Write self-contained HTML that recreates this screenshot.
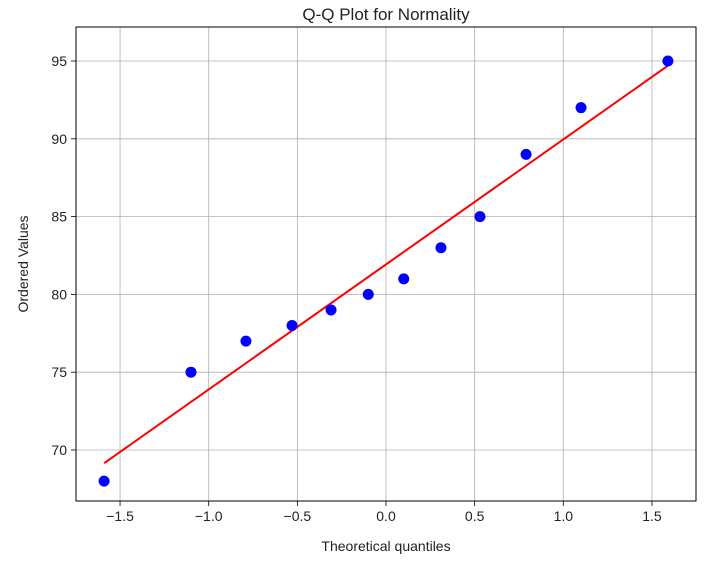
<!DOCTYPE html>
<html><head><meta charset="utf-8"><style>body{margin:0;background:#fff}svg{font-family:"Liberation Sans","DejaVu Sans",sans-serif}</style></head>
<body>
<svg id="c" width="714" height="566" xmlns="http://www.w3.org/2000/svg"></svg>
<script>
const xs=[-1.59,-1.10,-0.79,-0.53,-0.31,-0.10,0.10,0.31,0.53,0.79,1.10,1.59];
const ys=[68,75,77,78,79,80,81,83,85,89,92,95];
const lineX=[-1.59,1.59];
const lineY=[69.15,94.7];
const xTicks=[-1.5,-1.0,-0.5,0.0,0.5,1.0,1.5];
const xTickLabels=["\u22121.5","\u22121.0","\u22120.5","0.0","0.5","1.0","1.5"];
const yTicks=[70,75,80,85,90,95];
const L=76,R=696,T=27,B=501;
const X=v=>386+v*177.3;
const Y=v=>450-(v-70)*15.56;
const svg=document.getElementById('c');
const NS='http://www.w3.org/2000/svg';
function mk(t,a,txt){const e=document.createElementNS(NS,t);for(const k in a)e.setAttribute(k,a[k]);if(txt!=null)e.textContent=txt;svg.appendChild(e);return e;}
xTicks.forEach((v,i)=>{const x=X(v);
const g=mk('line',{x1:x,x2:x,y1:T,y2:B,stroke:'#b0b0b0','stroke-width':0.8});


const t=mk('line',{x1:x,x2:x,y1:B,y2:B+5,stroke:'#000','stroke-width':0.8});


const l=mk('text',{x:x,y:B+20,'text-anchor':'middle','font-size':14,fill:'#222'},xTickLabels[i]);


});
yTicks.forEach(v=>{const y=Y(v);
const g=mk('line',{x1:L,x2:R,y1:y,y2:y,stroke:'#b0b0b0','stroke-width':0.8});


const t=mk('line',{x1:L-5,x2:L,y1:y,y2:y,stroke:'#000','stroke-width':0.8});


const l=mk('text',{x:L-9,y:y+5,'text-anchor':'end','font-size':14,fill:'#222'},String(v));


});
const fl=mk('line',{x1:X(lineX[0]),y1:Y(lineY[0]),x2:X(lineX[1]),y2:Y(lineY[1]),stroke:'#ff0000','stroke-width':2});


xs.forEach((v,i)=>{const c=mk('circle',{cx:X(v),cy:Y(ys[i]),r:5.5,fill:'#0000ff'});


});
const fr=mk('rect',{x:L,y:T,width:R-L,height:B-T,fill:'none',stroke:'#000','stroke-width':1});


const ti=mk('text',{x:386,y:27-7,'text-anchor':'middle','font-size':17,fill:'#222'},'Q-Q Plot for Normality');


const xt=mk('text',{x:386,y:551,'text-anchor':'middle','font-size':14,fill:'#222'},'Theoretical quantiles');


const yt=mk('text',{x:0,y:0,'text-anchor':'middle','font-size':14,fill:'#222',transform:'translate(28,264) rotate(-90)'},'Ordered Values');


</script>
</body></html>
